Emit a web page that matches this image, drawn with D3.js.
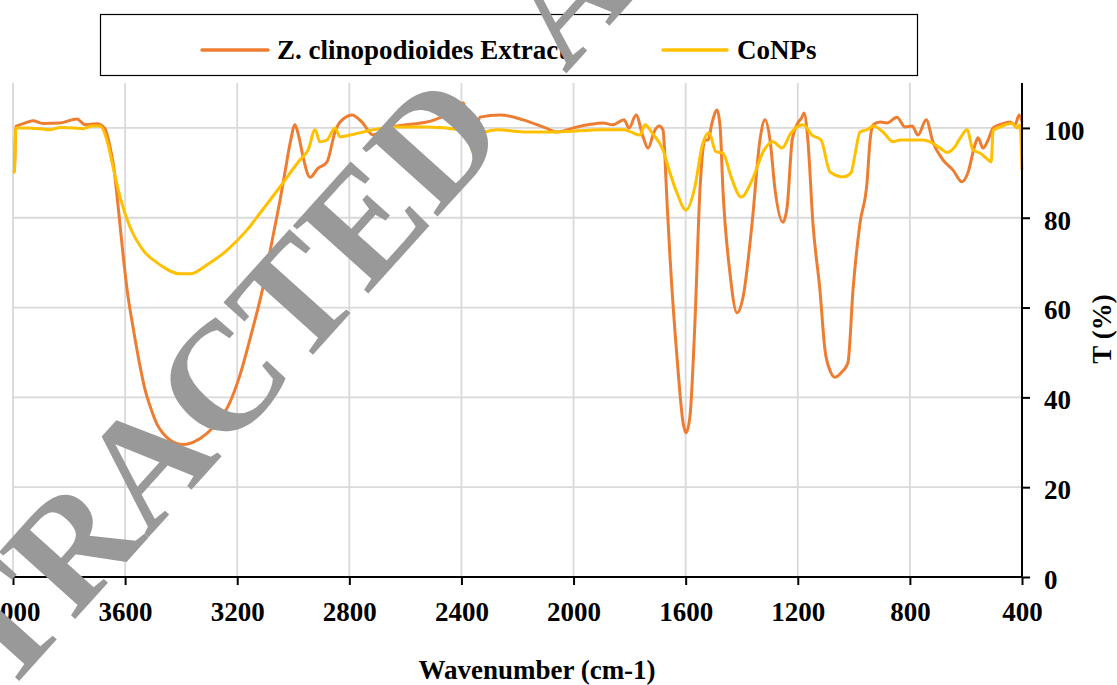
<!DOCTYPE html>
<html>
<head>
<meta charset="utf-8">
<script src="https://cdn.jsdelivr.net/npm/d3@7"></script>
<style>
  body { margin: 0; background: #fff; }
  svg { display: block; font-family: "Liberation Serif", "Times New Roman", serif; }
</style>
</head>
<body>
<div class="container"></div>
<script>
// Z. clinopodioides extract spectrum (wavenumber, transmittance %)
const extractWn = [4000, 3995, 3990, 3960, 3929, 3893, 3832, 3772, 3743, 3700, 3672, 3654, 3640, 3629, 3611, 3593, 3570, 3550, 3530, 3508, 3486, 3465, 3440, 3420, 3390, 3358, 3308, 3270, 3229, 3190, 3144, 3110, 3094, 3072, 3047, 3030, 3010, 2994, 2980, 2965, 2940, 2912, 2880, 2851, 2833, 2790, 2755, 2715, 2680, 2648, 2580, 2523, 2451, 2405, 2394, 2380, 2369, 2352, 2334, 2262, 2180, 2100, 2059, 2000, 1940, 1895, 1860, 1820, 1802, 1777, 1752, 1734, 1713, 1695, 1681, 1674, 1667, 1656, 1631, 1609, 1599, 1585, 1567, 1549, 1531, 1520, 1506, 1488, 1477, 1467, 1442, 1417, 1395, 1363, 1335, 1317, 1299, 1281, 1253, 1238, 1220, 1203, 1185, 1178, 1164, 1146, 1121, 1103, 1085, 1067, 1042, 1021, 1003, 978, 953, 942, 931, 906, 882, 846, 818, 792, 771, 742, 717, 682, 646, 614, 593, 568, 557, 539, 521, 503, 471, 443, 425, 410, 400]
const extractT = [90.2, 90.5, 100.3, 101.0, 101.6, 101.0, 101.1, 102.0, 100.7, 100.9, 99.8, 95.8, 91, 85, 74, 64, 55, 48, 42, 37.5, 34, 32, 30.5, 29.8, 29.5, 30, 32, 34.5, 38.5, 45, 55.5, 64, 69, 76, 84, 90, 97, 100.7, 98, 93.5, 89, 91, 92.4, 99.1, 101.3, 102.9, 101.3, 98.4, 99.5, 100.2, 100.8, 101.3, 102.9, 104, 105.6, 103, 101.8, 98.9, 102.4, 102.9, 101.8, 100, 99.1, 100, 100.8, 101.1, 100.7, 101.8, 100, 102.9, 98, 95.5, 99.1, 100.4, 99.6, 93.5, 84, 71.3, 49, 34.3, 32.1, 35.6, 56.6, 86.2, 97.3, 97.3, 101.1, 104, 100.2, 86.2, 67.7, 58.8, 62.4, 78.8, 97.3, 101.8, 97.3, 86.2, 79, 82.4, 97.3, 100.7, 102.4, 103.3, 97.3, 78.8, 63.9, 50.6, 46, 44.5, 45.7, 47.7, 63.9, 78.8, 87.8, 97.3, 100.7, 101.3, 101.1, 102.4, 100.2, 100.4, 98.4, 101.8, 96.7, 92.9, 90.6, 88, 90, 96.2, 97.8, 95.5, 97.3, 100, 100.9, 101.3, 100.7, 102.9, 101.3]

// CoNPs spectrum
const conpsWn = [4000, 3995, 3990, 3950, 3900, 3870, 3830, 3780, 3750, 3720, 3690, 3665, 3643, 3618, 3583, 3536, 3475, 3404, 3368, 3308, 3236, 3165, 3119, 3047, 2976, 2947, 2922, 2905, 2880, 2851, 2833, 2798, 2715, 2630, 2523, 2405, 2380, 2369, 2359, 2341, 2320, 2273, 2180, 2059, 1900, 1820, 1795, 1763, 1745, 1720, 1681, 1656, 1631, 1599, 1567, 1542, 1517, 1492, 1467, 1438, 1402, 1363, 1320, 1288, 1256, 1224, 1181, 1149, 1117, 1085, 1035, 1010, 996, 978, 953, 931, 896, 860, 835, 789, 753, 728, 692, 668, 643, 618, 596, 575, 550, 521, 510, 503, 479, 436, 418, 407, 400]
const conpsT = [90, 90.3, 100, 100, 99.8, 99.6, 100.1, 100, 99.8, 100.4, 100.4, 97.3, 91.3, 84.6, 78, 72.8, 69.5, 67.5, 67.5, 69.5, 72.8, 77.3, 81, 86.9, 92.9, 95.1, 99.6, 96.9, 97.3, 100, 98, 98.4, 99.6, 100.2, 100.2, 99.6, 99.1, 96.7, 94.7, 96.2, 99, 99.6, 99.1, 99.1, 99.6, 99.6, 99.1, 98.4, 100.7, 98.9, 95.1, 90, 85.5, 81.7, 86.9, 95.8, 98.9, 94.7, 94.4, 89.1, 84.6, 88.4, 95.1, 96.9, 95.5, 98.9, 100.7, 98.4, 97.3, 90.2, 89.1, 90, 94, 99.1, 99.6, 100.4, 99.1, 96.9, 97.3, 97.3, 97.3, 96.9, 95.5, 94.5, 95.5, 98, 99.6, 95.1, 94.4, 92.9, 92.4, 99.4, 100.2, 101, 100, 100.7, 90.6]

const xTicks = [4000, 3600, 3200, 2800, 2400, 2000, 1600, 1200, 800, 400]
const yTicks = [0, 20, 40, 60, 80, 100]
const seriesNames = ["Z. clinopodioides Extract", "CoNPs"]
const seriesColors = ["#ED7D31", "#FFC000"]

const width = 1117
const height = 685
const serif = '"Liberation Serif", "Times New Roman", serif'

const xScale = d3.scaleLinear().domain([4000, 400]).range([13, 1022])
const yScale = d3.scaleLinear().domain([0, 110]).range([577, 83])

const svg = d3.select(".container")
  .append("svg")
    .attr("width", width)
    .attr("height", height)

// grid
svg.append("g")
  .selectAll("line")
  .data(xTicks)
  .enter()
  .append("line")
    .attr("x1", d => xScale(d))
    .attr("x2", d => xScale(d))
    .attr("y1", yScale(110))
    .attr("y2", yScale(0))
    .attr("stroke", "#d9d9d9")
    .attr("stroke-width", 1.8)

svg.append("g")
  .selectAll("line")
  .data(yTicks)
  .enter()
  .append("line")
    .attr("x1", xScale(4000))
    .attr("x2", xScale(400))
    .attr("y1", d => yScale(d))
    .attr("y2", d => yScale(d))
    .attr("stroke", "#d9d9d9")
    .attr("stroke-width", 1.8)

// series
const line = d3.line()
  .x(d => xScale(d[0]))
  .y(d => yScale(d[1]))
  .curve(d3.curveMonotoneX)

const extractData = extractWn.map((w, i) => [w, extractT[i]])
const conpsData = conpsWn.map((w, i) => [w, conpsT[i]])

svg.append("path")
  .datum(extractData)
  .attr("d", line)
  .attr("fill", "none")
  .attr("stroke", seriesColors[0])
  .attr("stroke-width", 3)
  .attr("stroke-linejoin", "round")

svg.append("path")
  .datum(conpsData)
  .attr("d", line)
  .attr("fill", "none")
  .attr("stroke", seriesColors[1])
  .attr("stroke-width", 3)
  .attr("stroke-linejoin", "round")

// axes
const xAxis = d3.axisBottom(xScale).tickValues(xTicks).tickSize(8).tickPadding(17).tickFormat(d3.format("d"))
const yAxis = d3.axisRight(yScale).tickValues(yTicks).tickSize(8).tickPadding(14)

const gx = svg.append("g")
  .attr("transform", `translate(0, ${yScale(0)})`)
  .call(xAxis)
gx.select(".domain").attr("d", `M${xScale(4000)},0H${xScale(400)}`)

const gy = svg.append("g")
  .attr("transform", `translate(${xScale(400)}, 0)`)
  .call(yAxis)
gy.select(".domain").attr("d", `M0,${yScale(110)}V${yScale(0)}`)
gy.selectAll(".tick text").attr("dy", "0.42em")

svg.selectAll(".domain, .tick line")
  .attr("stroke", "#000")
  .attr("stroke-width", 2)
svg.selectAll(".tick text")
  .attr("fill", "#000")
  .style("font-family", serif)
  .style("font-size", "27px")
  .style("font-weight", "bold")

svg.append("text")
  .attr("x", 537)
  .attr("y", 679)
  .attr("text-anchor", "middle")
  .style("font-family", serif)
  .style("font-size", "27px")
  .style("font-weight", "bold")
  .text("Wavenumber (cm-1)")

svg.append("text")
  .attr("transform", "translate(1111, 329) rotate(-90)")
  .attr("text-anchor", "middle")
  .style("font-family", serif)
  .style("font-size", "27px")
  .style("font-weight", "bold")
  .text("T (%)")

// legend
svg.append("rect")
  .attr("x", 100.5)
  .attr("y", 14.5)
  .attr("width", 817)
  .attr("height", 61)
  .attr("fill", "#fff")
  .attr("stroke", "#000")
  .attr("stroke-width", 1.2)

const legendX = [[202, 268, 277], [663, 727, 737]]
seriesNames.forEach((name, i) => {
  svg.append("line")
    .attr("x1", legendX[i][0])
    .attr("x2", legendX[i][1])
    .attr("y1", 50)
    .attr("y2", 50)
    .attr("stroke", seriesColors[i])
    .attr("stroke-width", 3.5)
    .attr("stroke-linecap", "round")
  svg.append("text")
    .attr("x", legendX[i][2])
    .attr("y", 59)
    .style("font-family", serif)
    .style("font-size", "27px")
    .style("font-weight", "bold")
    .text(name)
})

// watermark
const mark = svg.append("g")
  .attr("transform", "translate(185, 497) rotate(-48)")
  .attr("fill", "#999999")

const word1 = mark.append("text")
  .attr("text-anchor", "middle")
  .style("font-family", serif)
  .style("font-size", "155px")
  .style("font-weight", "bold")
  .text("RETRACTED")
const half = word1.node().getComputedTextLength() / 2
mark.append("text")
  .attr("x", half + 82)
  .style("font-family", serif)
  .style("font-size", "155px")
  .style("font-weight", "bold")
  .text("ARTICLE")
</script>
</body>
</html>
